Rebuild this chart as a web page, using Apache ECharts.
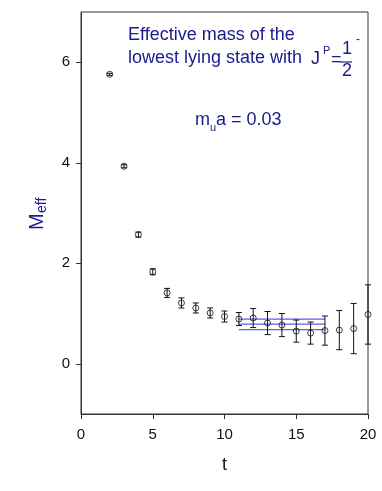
<!DOCTYPE html>
<html>
<head>
<meta charset="utf-8">
<script src="https://cdn.jsdelivr.net/npm/echarts@6/dist/echarts.min.js"></script>
<style>
  html, body { margin: 0; padding: 0; background: #fff; }
  #chart { width: 382px; height: 491px; }
</style>
</head>
<body>
<div id="chart"></div>
<script>
(function (window) {
    "use strict";

    // 时间片 t
    var tValues = [2, 3, 4, 5, 6, 7, 8, 9, 10, 11, 12, 13, 14, 15, 16, 17, 18, 19, 20];
    // 有效质量
    var meffValues = [5.76, 3.93, 2.57, 1.83, 1.41, 1.21, 1.11, 1.01, 0.94, 0.89, 0.91, 0.81, 0.77, 0.65, 0.61, 0.66, 0.67, 0.70, 0.98];
    // 误差
    var errValues = [0.02, 0.03, 0.05, 0.06, 0.09, 0.10, 0.10, 0.10, 0.11, 0.13, 0.19, 0.23, 0.23, 0.22, 0.22, 0.29, 0.39, 0.50, 0.59];
    // 拟合区间 与 拟合值（上、中、下）
    var fitRange = [11, 17];
    var fitValues = [0.89, 0.79, 0.68];
    var yTicks = [0, 2, 4, 6];

    var navy = '#1a1a8c';
    var font = 'Liberation Sans, Arial, sans-serif';

    var points = tValues.map(function (t, i) {
        return [t, meffValues[i], errValues[i]];
    });

    var fitSeries = fitValues.map(function (v) {
        return {
            type: 'line',
            data: [[fitRange[0], v], [fitRange[1], v]],
            symbol: 'none',
            silent: true,
            z: 1,
            lineStyle: { color: '#5c5cf0', width: 1.2 }
        };
    });

    var txt = function (x, y, text, size, extra) {
        var style = { x: x, y: y, text: text, fill: navy, font: size + 'px ' + font, textVerticalAlign: 'middle' };
        for (var k in extra) { style[k] = extra[k]; }
        return { type: 'text', style: style, z: 10 };
    };

    var chart = window.echarts.init(document.getElementById('chart'));
    var option = {
        animation: false,
        grid: {
            left: 81, right: 14, top: 12, bottom: 77,
            show: true, borderColor: '#333', borderWidth: 1
        },
        xAxis: {
            type: 'value',
            min: 0, max: 20, interval: 5,
            name: 't',
            nameLocation: 'middle',
            nameGap: 42,
            nameTextStyle: { color: '#111', fontSize: 18, fontFamily: font },
            splitLine: { show: false },
            axisLine: { onZero: false, lineStyle: { color: '#333' } },
            axisTick: { inside: false, length: 5, lineStyle: { color: '#333' } },
            axisLabel: { color: '#111', fontSize: 15, fontFamily: font, margin: 13 }
        },
        yAxis: {
            type: 'value',
            min: -1, max: 7,
            splitLine: { show: false },
            axisLine: { show: true, onZero: false, lineStyle: { color: '#333' } },
            axisTick: { show: true, length: 5, customValues: yTicks, lineStyle: { color: '#333' } },
            axisLabel: { color: '#111', fontSize: 15, fontFamily: font, margin: 11, customValues: yTicks }
        },
        graphic: [
            txt(128, 35, 'Effective mass of the', 18),
            txt(128, 58, 'lowest lying state with', 18),
            txt(311, 59, 'J', 18),
            txt(323, 51, 'P', 11),
            txt(331, 60, '=', 18),
            txt(342, 49, '1', 18),
            { type: 'line', shape: { x1: 340, y1: 62, x2: 352, y2: 62 }, style: { stroke: navy, lineWidth: 1.2 }, z: 10 },
            txt(342, 71, '2', 18),
            txt(356, 40, '-', 12),
            txt(195, 120, 'm', 18),
            txt(210, 128, 'u', 11),
            txt(216, 120, 'a = 0.03', 18),
            {
                type: 'group',
                x: 37, y: 230,
                rotation: Math.PI / 2,
                children: [
                    { type: 'text', style: { x: 0, y: 0, text: 'M', fill: navy, font: '20px ' + font, textVerticalAlign: 'middle' } },
                    { type: 'text', style: { x: 17, y: 5, text: 'eff', fill: navy, font: '14px ' + font, textVerticalAlign: 'middle' } }
                ]
            }
        ],
        series: fitSeries.concat([
            {
                type: 'custom',
                data: points,
                z: 3,
                renderItem: function (params, api) {
                    var t = api.value(0), v = api.value(1), e = api.value(2);
                    var top = api.coord([t, v + e]);
                    var bot = api.coord([t, v - e]);
                    var w = 3;
                    var st = { stroke: '#111', lineWidth: 1 };
                    return {
                        type: 'group',
                        children: [
                            { type: 'line', shape: { x1: top[0], y1: top[1], x2: bot[0], y2: bot[1] }, style: st },
                            { type: 'line', shape: { x1: top[0] - w, y1: top[1], x2: top[0] + w, y2: top[1] }, style: st },
                            { type: 'line', shape: { x1: bot[0] - w, y1: bot[1], x2: bot[0] + w, y2: bot[1] }, style: st }
                        ]
                    };
                }
            },
            {
                type: 'scatter',
                data: points,
                symbol: 'circle',
                symbolSize: 6,
                z: 4,
                itemStyle: { color: 'transparent', borderColor: '#111', borderWidth: 1 }
            }
        ])
    };
    chart.setOption(option);

})(window);
</script>
</body>
</html>
